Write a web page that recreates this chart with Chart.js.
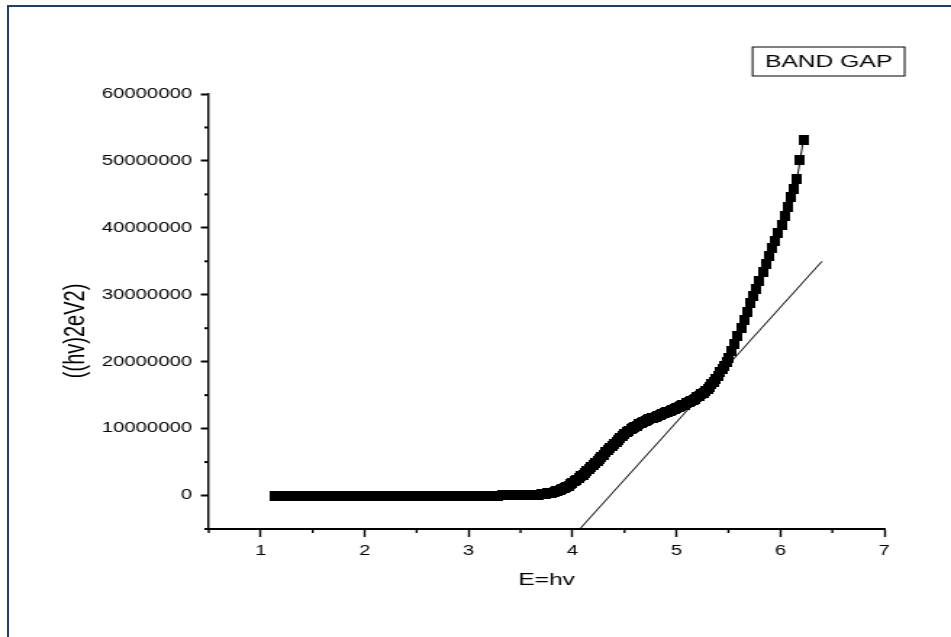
<!DOCTYPE html>
<html>
<head>
<meta charset="utf-8">
<script src="https://cdn.jsdelivr.net/npm/chart.js@4/dist/chart.umd.min.js"></script>
<style>
	body { margin: 0; background: #fff; overflow: hidden; }
	#frame { position: absolute; left: 7px; top: 5px; width: 960px; height: 660px;
		border-left: 2px solid #233f66; border-top: 2px solid #233f66; }
	/* the original picture is stretched sideways, so the chart is drawn narrow and widened */
	#wrap { position: absolute; left: 0; top: 0; width: 656px; height: 637px;
		transform: scaleX(1.4497); transform-origin: 0 0; }
</style>
</head>
<body>
<div id="frame"></div>
<div id="wrap"><canvas id="band-gap"></canvas></div>
<script>

// photon energy (eV) of each measured point
var energy = [
	1.13,1.18,1.23,1.28,1.33,1.38,1.43,1.48,1.53,1.58,1.63,1.68,1.73,1.78,1.83,1.88,1.93,1.98,
	2.03,2.08,2.13,2.18,2.23,2.28,2.33,2.38,2.43,2.48,2.53,2.58,2.63,2.68,2.73,2.78,2.83,2.88,2.93,2.98,
	3.03,3.08,3.13,3.18,3.23,3.28,3.33,3.38,3.43,3.48,3.53,3.58,
	3.60,3.62,3.64,3.66,3.68,3.70,3.72,3.74,3.76,3.78,3.80,3.82,3.84,3.86,3.88,3.90,3.92,3.94,3.96,3.98,
	4.00,4.02,4.04,4.06,4.08,4.10,4.12,4.14,4.16,4.18,4.20,4.22,4.24,4.26,4.28,4.30,4.32,4.34,4.36,4.38,
	4.40,4.42,4.44,4.46,4.48,4.50,4.52,4.54,4.56,4.58,4.60,4.62,4.64,4.66,4.68,4.70,4.72,4.74,4.76,4.78,
	4.80,4.82,4.84,4.86,4.88,4.90,4.92,4.94,4.96,4.98,5.00,5.02,5.04,5.06,5.08,5.10,5.12,5.14,5.16,5.18,
	5.20,5.22,5.24,5.26,5.28,5.30,5.32,5.34,5.36,5.38,5.40,5.42,5.44,5.46,5.48,5.50,
	5.53,5.56,5.59,5.62,5.65,5.68,5.71,5.74,5.77,5.80,5.83,5.86,5.89,5.92,5.95,5.98,
	6.01,6.04,6.07,6.10,6.13,6.16,6.19,6.22
];
// (αhν)^2 in millions
var absorb = [
	0,0,0,0,0,0,0,0,0,0,0,0,0,0,0,0,0,0,
	0,0,0,0,0,0,0,0,0,0,0,0,0,0,0,0,0,0,0,0,
	0,0,0,0,0,0,0.01,0.01,0.02,0.02,0.03,0.04,
	0.05,0.07,0.09,0.12,0.15,0.19,0.23,0.27,0.32,0.38,0.45,0.53,0.63,0.73,0.85,0.98,1.12,1.28,1.48,1.7,
	1.92,2.15,2.38,2.62,2.85,3.1,3.35,3.62,3.9,4.2,4.5,4.82,5.15,5.48,5.8,6.12,6.44,6.76,7.08,7.4,
	7.72,8.04,8.35,8.64,8.9,9.16,9.42,9.66,9.88,10.1,10.28,10.46,10.62,10.78,10.94,11.1,11.24,11.38,11.52,11.66,
	11.8,11.94,12.06,12.18,12.3,12.42,12.54,12.66,12.78,12.9,13.04,13.18,13.32,13.46,13.6,13.76,13.92,14.08,14.26,14.46,
	14.66,14.88,15.1,15.32,15.55,15.85,16.2,16.6,17.0,17.4,17.9,18.4,18.9,19.4,20.0,20.6,
	21.6,22.7,23.9,25.1,26.3,27.5,28.7,29.8,30.9,32.1,33.4,34.6,35.8,37.0,38.1,39.3,
	40.5,41.8,43.1,44.6,45.8,47.3,50.1,53.1
];
// hand drawn tangent: [start, end]
var fitE = [4.07, 6.40];
var fitY = [-5, 35];

var xTicks = { min: 0.5, max: 7, step: 0.5 };
var yTicks = { min: -5000000, max: 60000000, step: 5000000 };

var curve = energy.map(function(e, i) { return { x: e, y: absorb[i] * 1e6 }; });
var tangent = fitE.map(function(e, i) { return { x: e, y: fitY[i] * 1e6 }; });

var marker = document.createElement('canvas');
marker.width = 7;
marker.height = 10;
var mctx = marker.getContext('2d');
mctx.fillStyle = '#000';
mctx.fillRect(0, 0, 7, 10);

var isMajorX = function(v) { return Math.abs(v - Math.round(v)) < 1e-6; };
var isMajorY = function(v) { return v % 10000000 === 0; };

var minorTicks = {
	id: 'minorTicks',
	afterDraw: function(chart) {
		var ctx = chart.ctx, x = chart.scales.x, y = chart.scales.y;
		ctx.save();
		ctx.strokeStyle = '#000';
		ctx.lineWidth = 1.4;
		x.ticks.forEach(function(t) {
			if (isMajorX(t.value)) return;
			var px = x.getPixelForValue(t.value);
			ctx.beginPath(); ctx.moveTo(px, x.top); ctx.lineTo(px, x.top + 4); ctx.stroke();
		});
		ctx.lineWidth = 2;
		y.ticks.forEach(function(t) {
			if (isMajorY(t.value)) return;
			var py = y.getPixelForValue(t.value);
			ctx.beginPath(); ctx.moveTo(y.right - 3, py); ctx.lineTo(y.right, py); ctx.stroke();
		});
		ctx.restore();
	}
};

var legendBox = {
	id: 'legendBox',
	afterDraw: function(chart) {
		var ctx = chart.ctx, area = chart.chartArea;
		var text = 'BAND GAP';
		ctx.save();
		ctx.font = '17px "Liberation Sans", Arial, sans-serif';
		var w = ctx.measureText(text).width + 17;
		var right = area.right + 14, top = area.top - 47, h = 29;
		ctx.fillStyle = '#fff';
		ctx.fillRect(right - w, top, w, h);
		ctx.strokeStyle = '#000';
		ctx.lineWidth = 1;
		ctx.strokeRect(right - w, top, w, h);
		ctx.fillStyle = '#000';
		ctx.textAlign = 'center';
		ctx.textBaseline = 'middle';
		ctx.fillText(text, right - w / 2, top + h / 2 + 1);
		ctx.restore();
	}
};

Chart.defaults.font.family = '"Liberation Sans", Arial, sans-serif';
Chart.defaults.color = '#000';

new Chart(document.getElementById('band-gap'), {
	type: 'scatter',
	data: {
		datasets: [{
			label: 'BAND GAP',
			data: curve,
			showLine: true,
			borderColor: '#000',
			borderWidth: 1,
			pointStyle: marker,
			pointRadius: 4,
			pointBackgroundColor: '#000'
		}, {
			label: 'tangent',
			data: tangent,
			showLine: true,
			borderColor: '#000',
			borderWidth: 1,
			pointRadius: 0
		}]
	},
	options: {
		responsive: true,
		maintainAspectRatio: false,
		animation: false,
		layout: { padding: { left: 0, right: 46, top: 94, bottom: 38 } },
		plugins: {
			legend: { display: false },
			tooltip: { enabled: false }
		},
		scales: {
			x: {
				type: 'linear',
				min: xTicks.min,
				max: xTicks.max,
				afterFit: function(s) { s.height = 70; },
				border: { display: true, color: '#000', width: 2 },
				grid: {
					drawOnChartArea: false,
					tickLength: 8,
					tickWidth: 1.4,
					tickColor: function(c) { return c.tick && isMajorX(c.tick.value) ? '#000' : 'rgba(0,0,0,0)'; }
				},
				ticks: {
					stepSize: xTicks.step,
					autoSkip: false,
					maxRotation: 0,
					padding: 6,
					font: { size: 14 },
					callback: function(v) { return isMajorX(v) ? String(Math.round(v)) : ''; }
				},
				title: {
					display: true,
					text: 'E=hv',
					font: { size: 17 },
					padding: { top: 0, bottom: 8 }
				}
			},
			y: {
				type: 'linear',
				min: yTicks.min,
				max: yTicks.max,
				afterFit: function(s) { s.width = 144; },
				border: { display: true, color: '#000', width: 1.4 },
				grid: {
					drawOnChartArea: false,
					tickLength: 5.5,
					tickWidth: 2,
					tickColor: function(c) { return c.tick && isMajorY(c.tick.value) ? '#000' : 'rgba(0,0,0,0)'; }
				},
				ticks: {
					stepSize: yTicks.step,
					autoSkip: false,
					padding: 6,
					font: { size: 14 },
					callback: function(v) { return isMajorY(v) ? String(v) : ''; }
				},
				title: {
					display: true,
					text: '((hv)2eV2)       ',
					font: { size: 20 },
					padding: { top: 40, bottom: 0 }
				}
			}
		}
	},
	plugins: [minorTicks, legendBox]
});
</script>
</body>
</html>
